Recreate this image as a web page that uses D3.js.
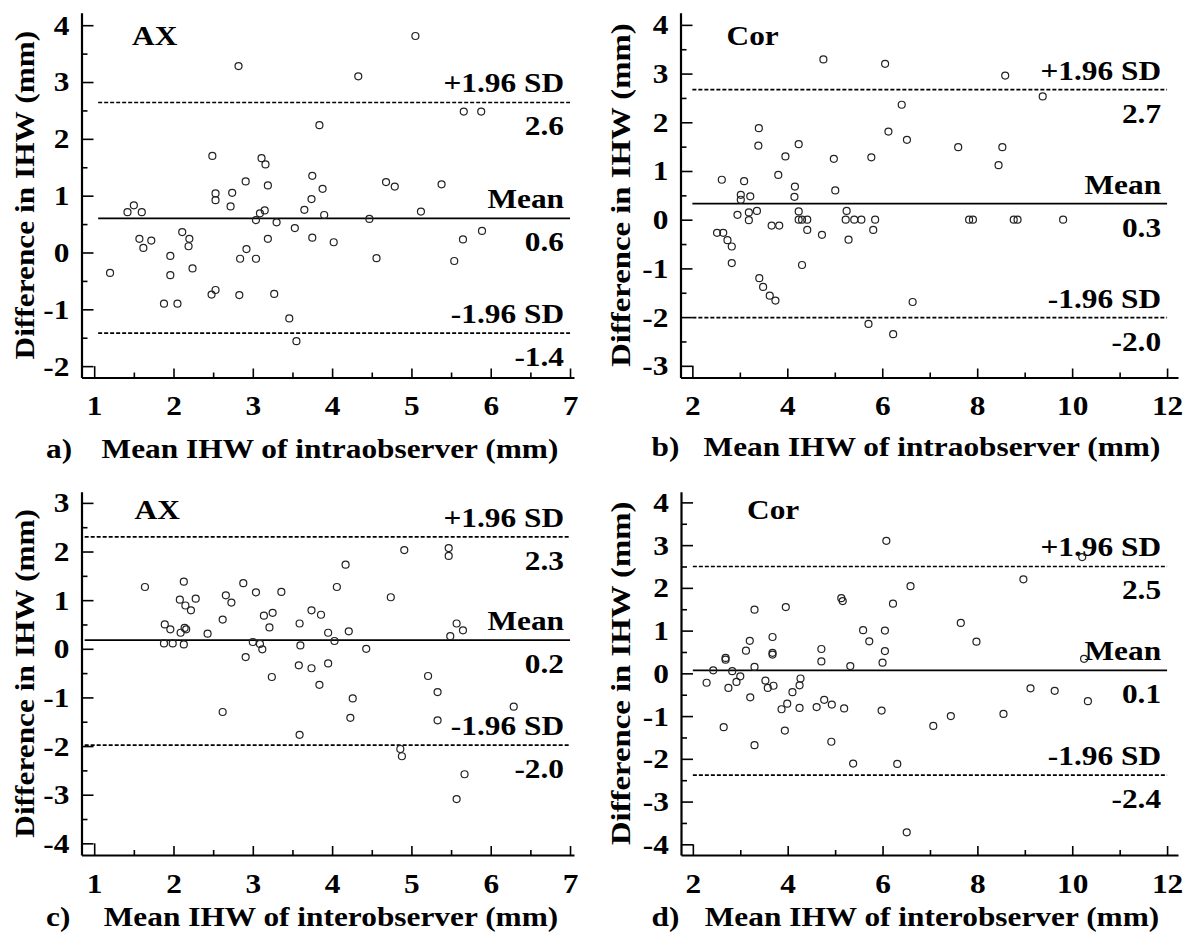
<!DOCTYPE html>
<html>
<head>
<meta charset="utf-8">
<script src="https://cdn.jsdelivr.net/npm/d3@7"></script>
<style>
  body { margin: 0; background: #fff; }
</style>
</head>
<body>
<div id="chart"></div>
<script>
// mean IHW (x) and difference (y) per panel
const intraAxMean = [1.20,1.42,1.50,1.60,1.57,1.62,1.72,1.88,1.96,1.96,2.05,2.11,2.20,2.19,2.24,2.49,2.53,2.53,2.48,2.53,2.74,2.72,2.82,2.84,2.83,2.91,2.92,3.04,3.04,3.09,3.11,3.16,3.15,3.19,3.19,3.30,3.27,3.46,3.53,3.55,3.65,3.75,3.74,3.75,3.84,3.88,3.90,4.02,4.33,4.47,4.56,4.68,4.79,5.05,5.12,5.38,5.54,5.66,5.65,5.88,5.89];
const intraAxDiff = [-0.36,0.71,0.83,0.71,0.24,0.08,0.21,-0.90,-0.06,-0.40,-0.90,0.36,0.24,0.11,-0.28,1.70,1.04,0.92,-0.74,-0.66,1.05,0.81,3.28,-0.11,-0.75,1.25,0.06,0.57,-0.11,0.69,1.66,1.55,0.74,1.18,0.24,0.53,-0.73,-1.16,0.43,-1.56,0.75,1.35,0.94,0.26,2.24,1.12,0.66,0.18,3.10,0.59,-0.10,1.24,1.16,3.81,0.72,1.20,-0.15,2.48,0.23,2.48,0.38];

const intraCorMean = [2.52,2.65,2.62,2.74,2.83,2.83,2.95,3.02,3.02,3.09,3.19,3.19,3.22,3.36,3.40,3.39,3.41,3.49,3.63,3.75,3.67,3.83,3.81,3.96,4.16,4.15,4.24,4.24,4.24,4.31,4.42,4.42,4.31,4.73,4.76,4.98,5.01,5.25,5.23,5.29,5.41,5.56,5.77,5.81,5.85,5.71,6.06,6.13,6.23,6.41,6.52,6.64,7.60,7.83,7.91,8.45,8.53,8.59,8.77,8.85,9.38,9.81];
const intraCorDiff = [-0.27,-0.27,0.82,-0.42,-0.55,-0.89,0.10,0.51,0.41,0.79,0.15,-0.01,0.48,0.18,1.88,1.52,-1.20,-1.38,-1.56,-1.66,-0.12,-0.12,0.92,1.30,0.68,0.47,1.55,0.17,0.00,0.00,0.00,-0.21,-0.93,-0.31,3.29,1.25,0.60,0.18,0.00,-0.41,0.00,0.00,1.28,-0.21,0.00,-2.14,3.20,1.81,-2.35,2.36,1.64,-1.69,1.49,0.00,0.00,1.12,1.49,2.96,0.00,0.00,2.53,0.00];

const interAxMean = [1.64,1.88,1.89,1.96,1.99,2.08,2.09,2.13,2.13,2.14,2.16,2.15,2.22,2.28,2.43,2.62,2.62,2.66,2.73,2.88,2.91,3.00,3.04,3.09,3.12,3.14,3.21,3.25,3.24,3.36,3.59,3.60,3.58,3.59,3.74,3.74,3.84,3.86,3.95,3.95,4.03,4.06,4.17,4.21,4.26,4.23,4.43,4.74,4.91,4.86,4.88,5.21,5.33,5.33,5.47,5.47,5.49,5.57,5.65,5.57,5.67,6.29];
const interAxDiff = [1.27,0.11,0.50,0.40,0.11,1.01,0.33,1.38,0.09,0.43,0.40,0.89,0.79,1.03,0.31,0.60,-1.30,1.10,0.95,1.35,-0.17,0.14,1.16,0.10,-0.01,0.68,0.44,0.74,-0.58,1.17,0.52,0.07,-0.34,-1.77,0.79,-0.40,-0.74,0.70,0.33,-0.30,0.16,1.27,1.73,0.36,-1.02,-1.42,0.00,1.06,2.03,-2.06,-2.21,-0.56,-0.89,-1.47,2.07,1.91,0.26,0.52,0.38,-3.09,-2.58,-1.19];

const interCorMean = [2.29,2.43,2.69,2.69,2.65,2.75,2.83,2.92,3.00,3.12,3.20,3.21,3.30,3.30,3.30,3.53,3.58,3.68,3.68,3.68,3.70,3.87,3.96,3.99,3.94,4.10,4.25,4.27,4.25,4.61,4.71,4.71,4.77,4.93,4.92,5.13,5.16,5.19,5.32,5.38,5.59,5.72,6.00,5.98,6.05,6.05,6.08,6.22,6.31,6.51,6.59,7.07,7.44,7.65,7.98,8.55,8.97,9.12,9.63,10.21,10.25,10.33];
const interCorDiff = [-0.22,0.07,0.36,0.32,-1.26,-0.34,0.05,-0.20,-0.07,0.53,0.76,-0.56,1.49,0.15,-1.68,-0.17,-0.34,0.85,0.48,0.44,-0.29,-0.84,1.55,-0.71,-1.34,-0.44,-0.28,-0.12,-0.81,-0.79,0.57,0.28,-0.62,-0.73,-1.60,1.76,1.69,-0.82,0.17,-2.11,1.01,0.75,0.25,-0.87,1.00,0.52,3.10,1.63,-2.12,-3.72,2.04,-1.23,-1.00,1.18,0.74,-0.95,2.20,-0.35,-0.41,2.72,0.34,-0.65];

// limits of agreement: +1.96 SD, mean, -1.96 SD
const limitNames = ['+1.96 SD', 'Mean', '-1.96 SD'];
const intraAxLimits = [2.64, 0.60, -1.42];
const intraCorLimits = [2.67, 0.33, -2.01];
const interAxLimits = [2.30, 0.18, -1.98];
const interCorLimits = [2.50, 0.07, -2.38];

// tick labels
const xTicksAx = [1, 2, 3, 4, 5, 6, 7];
const xTicksCor = [2, 4, 6, 8, 10, 12];
const yTicksIntraAx = [-2, -1, 0, 1, 2, 3, 4];
const yTicksIntraCor = [-3, -2, -1, 0, 1, 2, 3, 4];
const yTicksInterAx = [-4, -3, -2, -1, 0, 1, 2, 3];
const yTicksInterCor = [-4, -3, -2, -1, 0, 1, 2, 3, 4];

const width = 1190;
const height = 942;
const fontFamily = '"Liberation Serif", "Times New Roman", serif';
const stretch = 1.12;

const svg = d3.select('#chart')
  .append('svg')
  .attr('width', width)
  .attr('height', height)
  .style('background', '#fff');

let addText = (parent, str, px, py, anchor, s = stretch) => parent.append('text')
  .attr('transform', `translate(${px},${py}) scale(${s},1)`)
  .attr('text-anchor', anchor)
  .attr('font-family', fontFamily)
  .attr('font-weight', 'bold')
  .attr('font-size', 28)
  .attr('fill', '#000')
  .text(str);

let midpoints = ticks => ticks.slice(1).map((v, i) => (v + ticks[i]) / 2);

let drawPanel = p => {
  const x = d3.scaleLinear().domain(p.xDomain).range([p.left, p.right]);
  const y = d3.scaleLinear().domain(p.yDomain).range([p.bottom, p.top]);
  const g = svg.append('g');

  // minor ticks
  g.append('g')
    .attr('transform', `translate(0,${p.bottom})`)
    .call(d3.axisBottom(x).tickValues(midpoints(p.xTicks)).tickSize(-5).tickSizeOuter(0).tickFormat(''))
    .call(s => s.select('.domain').remove());
  g.append('g')
    .attr('transform', `translate(${p.left},0)`)
    .call(d3.axisLeft(y).tickValues(midpoints(p.yTicks)).tickSize(-6).tickSizeOuter(0).tickFormat(''))
    .call(s => s.select('.domain').remove());

  // major ticks and axis lines
  const xAxis = g.append('g')
    .attr('transform', `translate(0,${p.bottom})`)
    .call(d3.axisBottom(x).tickValues(p.xTicks).tickSize(-9).tickSizeOuter(0).tickPadding(18).tickFormat(d => String(d)));
  const yAxis = g.append('g')
    .attr('transform', `translate(${p.left},0)`)
    .call(d3.axisLeft(y).tickValues(p.yTicks).tickSize(-12).tickSizeOuter(0).tickPadding(12).tickFormat(d => String(d)));

  // first x tick reaches up to the lowest y tick (small box in the corner)
  xAxis.select('.tick line').attr('y2', -(p.bottom - y(p.yTicks[0])));

  g.selectAll('.tick line').attr('stroke', '#000').attr('stroke-width', 1.6);
  g.selectAll('.domain').attr('stroke', '#000').attr('stroke-width', 2.2);
  [xAxis, yAxis].forEach(a => a.selectAll('text')
    .attr('font-family', fontFamily)
    .attr('font-weight', 'bold')
    .attr('font-size', 28)
    .attr('fill', '#000'));
  xAxis.selectAll('text').attr('transform', `scale(${stretch},1)`);
  yAxis.selectAll('text').attr('x', 0).attr('transform', `translate(-12,0) scale(${stretch},1)`);

  // limits of agreement
  const xEnd = x(p.xTicks[p.xTicks.length - 1]);
  p.limits.forEach((v, i) => {
    g.append('line')
      .attr('x1', x(p.lineStart))
      .attr('x2', xEnd)
      .attr('y1', y(v))
      .attr('y2', y(v))
      .attr('stroke', '#000')
      .attr('stroke-width', i == 1 ? 1.8 : 1.7)
      .attr('stroke-dasharray', i == 1 ? null : '4,2');
    addText(g, limitNames[i], xEnd - 6, y(v) - 10, 'end');
    addText(g, v.toFixed(1), xEnd - 6, y(v) + 33, 'end');
  });

  // points
  g.append('g')
    .selectAll('circle')
    .data(d3.zip(p.xs, p.ys))
    .join('circle')
    .attr('cx', d => x(d[0]))
    .attr('cy', d => y(d[1]))
    .attr('r', 3.5)
    .attr('fill', 'none')
    .attr('stroke', '#222')
    .attr('stroke-width', 1.2);

  addText(g, p.tag, p.tagX, p.tagY, 'start');

  // axis titles
  g.append('text')
    .attr('transform', `translate(${p.yTitleX},${(p.top + p.bottom) / 2}) rotate(-90) scale(${p.yTitleStretch},1)`)
    .attr('text-anchor', 'middle')
    .attr('font-family', fontFamily)
    .attr('font-weight', 'bold')
    .attr('font-size', 28)
    .text('Difference in IHW (mm)');
  addText(g, p.letter, p.letterX, p.titleY, 'start');
  addText(g, p.title, p.titleX, p.titleY, 'middle');
};

const panels = [
  {xs: intraAxMean, ys: intraAxDiff, limits: intraAxLimits, xTicks: xTicksAx, yTicks: yTicksIntraAx,
   left: 81.5, right: 574, top: 12.7, bottom: 377.5, xDomain: [0.84, 7.05], yDomain: [-2.2, 4.22],
   lineStart: 1.05, tag: 'AX', tagX: 132, tagY: 45, yTitleX: 34, yTitleStretch: 1.12,
   letter: 'a)', letterX: 46, title: 'Mean IHW of intraobserver (mm)', titleX: 330, titleY: 458},
  {xs: intraCorMean, ys: intraCorDiff, limits: intraCorLimits, xTicks: xTicksCor, yTicks: yTicksIntraCor,
   left: 680.5, right: 1178, top: 12.7, bottom: 377.5, xDomain: [1.75, 12.23], yDomain: [-3.24, 4.25],
   lineStart: 2, tag: 'Cor', tagX: 726.5, tagY: 45, yTitleX: 630, yTitleStretch: 1.17,
   letter: 'b)', letterX: 651.5, title: 'Mean IHW of intraobserver (mm)', titleX: 932, titleY: 456},
  {xs: interAxMean, ys: interAxDiff, limits: interAxLimits, xTicks: xTicksAx, yTicks: yTicksInterAx,
   left: 81.5, right: 574, top: 491.7, bottom: 855, xDomain: [0.84, 7.05], yDomain: [-4.24, 3.23],
   lineStart: 0.88, tag: 'AX', tagX: 134.5, tagY: 519, yTitleX: 34, yTitleStretch: 1.12,
   letter: 'c)', letterX: 46, title: 'Mean IHW of interobserver (mm)', titleX: 331, titleY: 926},
  {xs: interCorMean, ys: interCorDiff, limits: interCorLimits, xTicks: xTicksCor, yTicks: yTicksInterCor,
   left: 681, right: 1178, top: 491.7, bottom: 855, xDomain: [1.75, 12.23], yDomain: [-4.25, 4.25],
   lineStart: 2, tag: 'Cor', tagX: 747, tagY: 519, yTitleX: 630, yTitleStretch: 1.17,
   letter: 'd)', letterX: 651.5, title: 'Mean IHW of interobserver (mm)', titleX: 932, titleY: 926}
];

panels.forEach(drawPanel);
</script>
</body>
</html>
